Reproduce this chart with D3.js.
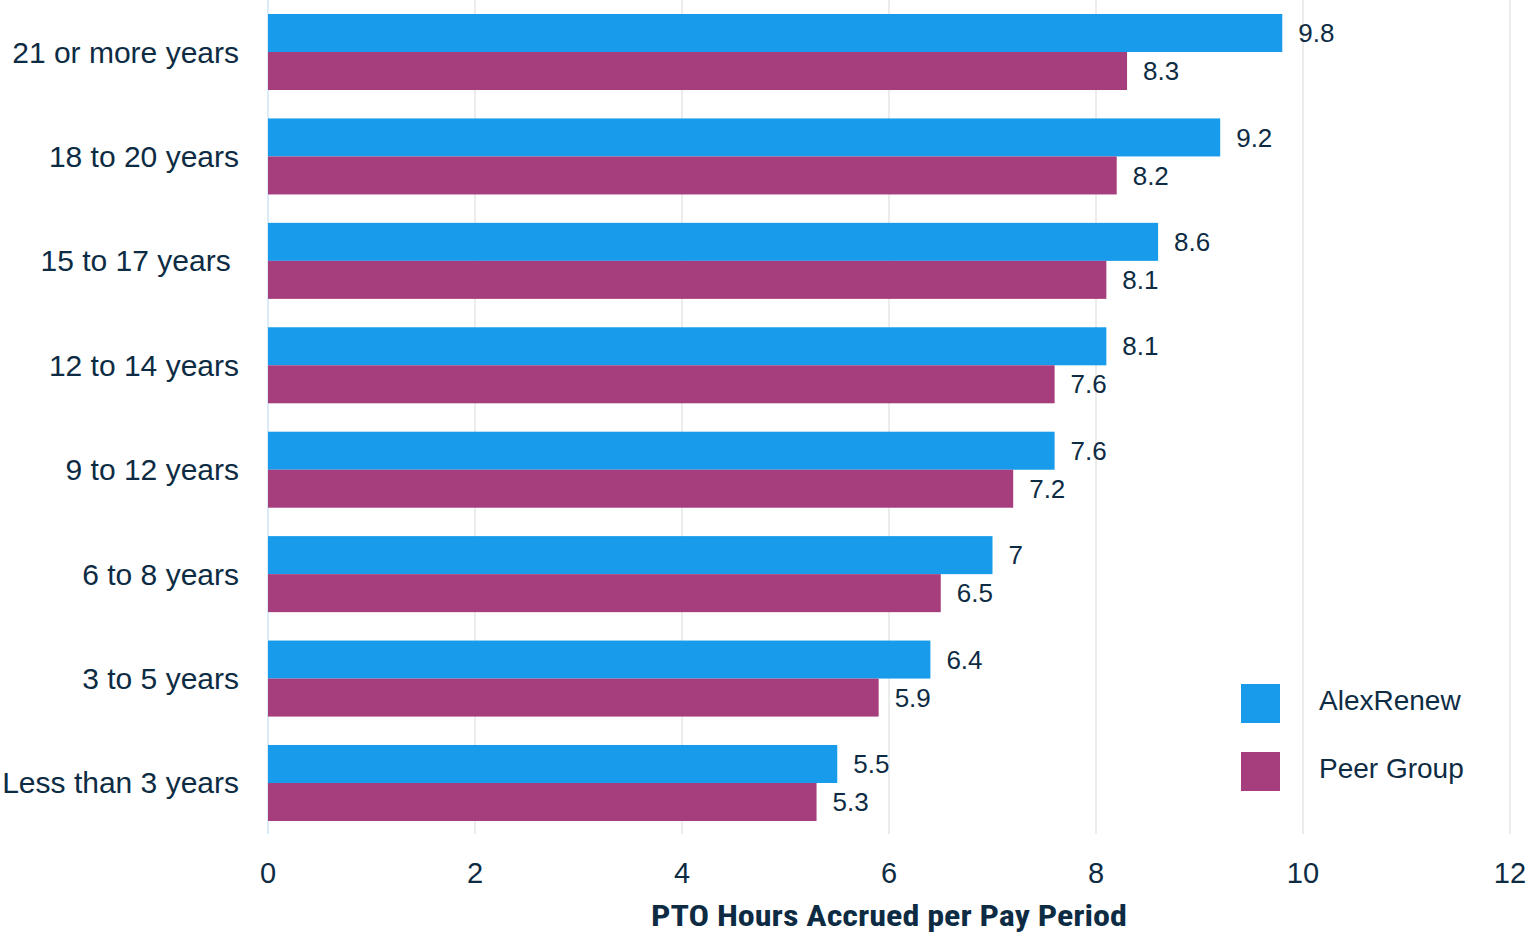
<!DOCTYPE html>
<html>
<head>
<meta charset="utf-8">
<script src="https://cdn.jsdelivr.net/npm/d3@7"></script>
<style>
  body { margin: 0; background: #fff; }
  text { font-family: 'Liberation Sans', Arial, sans-serif; fill: #0d2c44; }
</style>
</head>
<body>
<svg id="container"></svg>
<script>
const categories = ['21 or more years', '18 to 20 years', '15 to 17 years ', '12 to 14 years',
  '9 to 12 years', '6 to 8 years', '3 to 5 years', 'Less than 3 years']
const seriesNames = ['AlexRenew', 'Peer Group']
const alexRenew = [9.8, 9.2, 8.6, 8.1, 7.6, 7, 6.4, 5.5]
const peerGroup = [8.3, 8.2, 8.1, 7.6, 7.2, 6.5, 5.9, 5.3]
const xTicks = [0, 2, 4, 6, 8, 10, 12]
const colors = ['#179bea', '#a63d7c']

const width = 1529
const height = 933
const margin = { top: 0, right: 19, bottom: 99, left: 268 }
const w = width - margin.left - margin.right
const h = height - margin.top - margin.bottom

const svg = d3.select('#container').attr('width', width).attr('height', height)
const g = svg.append('g').attr('transform', `translate(${margin.left},${margin.top})`)

const x = d3.scaleLinear().domain([0, 12]).range([0, w])
// band layout: bars 38px high each, 104.4px per category
const y = d3.scaleBand().domain(categories).range([-14.4, 849.4]).paddingInner(0.272).paddingOuter(0.272)
const ySub = d3.scaleBand().domain(seriesNames).range([0, y.bandwidth()])

// grid lines
g.append('g')
  .selectAll('line')
  .data(xTicks)
  .join('line')
  .attr('x1', d => x(d))
  .attr('x2', d => x(d))
  .attr('y1', 0)
  .attr('y2', h)
  .attr('stroke', d => (d === 0 ? '#cfe6f7' : '#e6e6e6'))
  .attr('stroke-width', 1.5)

// x tick labels
g.append('g')
  .selectAll('text')
  .data(xTicks)
  .join('text')
  .attr('x', d => x(d))
  .attr('y', h + 49)
  .attr('text-anchor', 'middle')
  .style('font-size', '29px')
  .text(d => d)

// axis title
g.append('text')
  .attr('x', x(6))
  .attr('y', h + 92)
  .attr('text-anchor', 'middle')
  .attr('textLength', 476)
  .attr('lengthAdjust', 'spacingAndGlyphs')
  .style('font-family', "'Liberation Sans Narrow', 'Roboto Condensed', sans-serif")
  .style('font-stretch', 'condensed')
  .style('font-weight', 'bold')
  .style('font-size', '30px')
  .text('PTO Hours Accrued per Pay Period')

// category labels
g.append('g')
  .selectAll('text')
  .data(categories)
  .join('text')
  .attr('x', -29)
  .attr('y', d => y(d) + y.bandwidth() / 2)
  .attr('dy', '0.35em')
  .attr('text-anchor', 'end')
  .style('font-size', '30px')
  .style('white-space', 'pre')
  .text(d => d)

const rows = categories.map((c, i) => ({ cat: c, values: [alexRenew[i], peerGroup[i]] }))

const groups = g.append('g')
  .selectAll('g')
  .data(rows)
  .join('g')
  .attr('transform', d => `translate(0,${y(d.cat)})`)

groups.selectAll('rect')
  .data(d => d.values.map((v, i) => ({ key: seriesNames[i], v, i })))
  .join('rect')
  .attr('x', x(0))
  .attr('y', d => ySub(d.key))
  .attr('width', d => x(d.v) - x(0))
  .attr('height', ySub.bandwidth())
  .attr('fill', d => colors[d.i])

groups.selectAll('text.val')
  .data(d => d.values.map((v, i) => ({ key: seriesNames[i], v, i })))
  .join('text')
  .attr('class', 'val')
  .attr('x', d => x(d.v) + 16)
  .attr('y', d => ySub(d.key) + ySub.bandwidth() / 2)
  .attr('dy', '0.35em')
  .style('font-size', '26px')
  .text(d => d.v)

// legend
const legend = svg.append('g').attr('transform', 'translate(1241,684)')
const items = legend.selectAll('g')
  .data(seriesNames)
  .join('g')
  .attr('transform', (d, i) => `translate(0,${i * 68})`)
items.append('rect')
  .attr('width', 39)
  .attr('height', 39)
  .attr('fill', (d, i) => colors[i])
items.append('text')
  .attr('x', 78)
  .attr('y', 16)
  .attr('dy', '0.35em')
  .style('font-size', '28px')
  .text(d => d)
</script>
</body>
</html>
